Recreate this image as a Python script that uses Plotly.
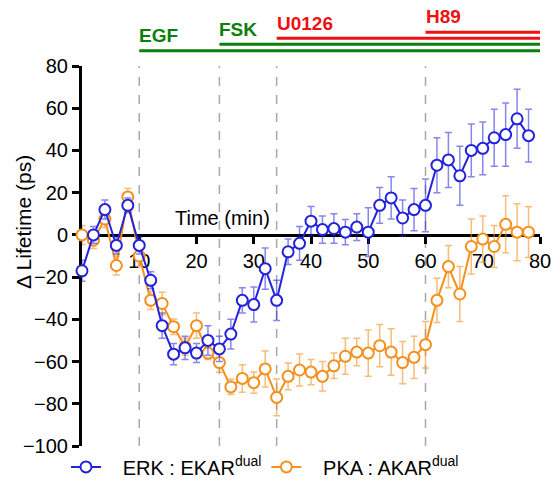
import plotly.graph_objects as go

# ---- data ----
time_min = list(range(0, 80, 2))

erk_mean = [-17, 0, 12, -5, 14, -5, -21.5, -43, -56.5, -53.5,
            -56, -50, -54, -47, -31, -33, -16, -31, -8, -4,
            6.5, 2.5, 3, 1.3, 3.7, 1.3, 14, 17.5, 8, 12,
            14, 33, 35.5, 28, 40, 41, 46, 47.5, 55, 47]
erk_err = [5, 4, 4.5, 4, 3.5, 4, 4, 6, 5, 5.5,
           4.5, 7, 6, 7, 6, 8.3, 9.8, 9.5, 6, 8,
           7, 6.5, 7, 6, 6.3, 11.5, 8.5, 10, 8.5, 10,
           12.5, 13, 13, 14, 12.5, 12.5, 13.5, 15, 14, 12.5]

pka_mean = [0, -2.5, 7.5, -14.5, 18, -10, -31, -32.5, -43.5, -53,
            -43, -56, -60.5, -72, -68, -70, -63.5, -77, -67, -64,
            -65, -67, -62, -57.5, -55.5, -56, -52.5, -55.5, -60.5, -58,
            -52, -31, -15, -28, -5.5, -2, -5.5, 5, 1.3, 1.3]
pka_err = [4.5, 4, 4, 4.5, 4, 5, 4.3, 5.3, 3.7, 4,
           6, 3, 4.6, 3.6, 6.5, 5, 8.5, 8.7, 6.3, 7.6,
           6, 7, 6, 8.5, 6.5, 11, 10, 11, 10, 10,
           11, 10.5, 10, 13, 13, 11, 10, 13.5, 13.5, 12]

event_names = ["EGF", "FSK", "U0126", "H89"]
event_times = [10, 24, 34, 60]
event_colors = ["#0b7f0b", "#0b7f0b", "#ee1111", "#ee1111"]

y_ticks = list(range(-100, 81, 20))
x_ticks = list(range(10, 81, 10))

BLUE = "#2323dc"
ORANGE = "#f5901e"
FONT = "Liberation Sans, Arial, sans-serif"

fig = go.Figure()

fig.add_trace(go.Scatter(
    x=time_min, y=pka_mean, mode="lines+markers",
    name="&nbsp;&nbsp;&nbsp;PKA : AKAR<sup>dual</sup>", legendrank=2,
    line=dict(color=ORANGE, width=2),
    marker=dict(symbol="circle", size=11, color="white",
                line=dict(color=ORANGE, width=2)),
    error_y=dict(type="data", array=pka_err, color="rgba(245,144,30,0.6)",
                 thickness=1.5, width=3.5),
    cliponaxis=False,
))
fig.add_trace(go.Scatter(
    x=time_min, y=erk_mean, mode="lines+markers",
    name="&nbsp;&nbsp;&nbsp;ERK : EKAR<sup>dual</sup>", legendrank=1,
    line=dict(color=BLUE, width=2),
    marker=dict(symbol="circle", size=11, color="white",
                line=dict(color=BLUE, width=2)),
    error_y=dict(type="data", array=erk_err, color="rgba(35,35,220,0.55)",
                 thickness=1.5, width=3.5),
    cliponaxis=False,
))

shapes = []
# dashed event lines
for t in event_times:
    shapes.append(dict(type="line", xref="x", yref="y", x0=t, x1=t,
                       y0=y_ticks[0], y1=y_ticks[-1], layer="below",
                       line=dict(color="#a8a8a8", width=1.5, dash="dash")))
# treatment bars above plot
bar_y = [1.0403, 1.0571, 1.0729, 1.0887]
label_y = [1.080, 1.097, 1.113, 1.129]
annotations = []
for name, t, c, by, ly in zip(event_names, event_times, event_colors, bar_y, label_y):
    shapes.append(dict(type="line", xref="x", yref="paper", x0=t, x1=80,
                       y0=by, y1=by, line=dict(color=c, width=3)))
    annotations.append(dict(text="<b>%s</b>" % name, xref="x", yref="paper",
                            x=t, y=ly, xanchor="left", yanchor="middle",
                            showarrow=False, xshift=-2,
                            font=dict(color=c, size=19, family=FONT)))

annotations.append(dict(text="Time (min)", xref="x", yref="y", x=16.2, y=8,
                        xanchor="left", yanchor="middle", showarrow=False,
                        xshift=-2, font=dict(size=20, color="black", family=FONT)))
annotations.append(dict(text="Δ Lifetime (ps)", xref="paper", yref="paper",
                        x=-0.129, y=0.589, xanchor="center", yanchor="middle",
                        textangle=-90, showarrow=False,
                        font=dict(size=21, color="black", family=FONT)))

fig.update_layout(
    width=553, height=485, autosize=False,
    margin=dict(l=82, r=13, t=66, b=39, autoexpand=False),
    paper_bgcolor="white", plot_bgcolor="white",
    font=dict(family=FONT, color="black", size=20),
    shapes=shapes, annotations=annotations,
    showlegend=True,
    legend=dict(orientation="h", x=-0.035, xanchor="left", y=-0.055,
                yanchor="middle", font=dict(size=20), bgcolor="rgba(0,0,0,0)",
                itemclick=False),
    xaxis=dict(range=[0, 80], anchor="free", position=100 / 180,
               tickvals=x_ticks, ticks="outside", ticklen=7, tickwidth=3,
               tickcolor="black", showline=True, linewidth=3, linecolor="black",
               showgrid=False, zeroline=False, layer="below traces",
               tickfont=dict(size=20)),
    yaxis=dict(range=[-100, 80], tickvals=y_ticks, ticks="outside", ticklen=7,
               tickwidth=3, tickcolor="black", showline=True, linewidth=3,
               linecolor="black", showgrid=False, zeroline=False,
               layer="below traces", tickfont=dict(size=20)),
)

fig.write_html("out.html")
